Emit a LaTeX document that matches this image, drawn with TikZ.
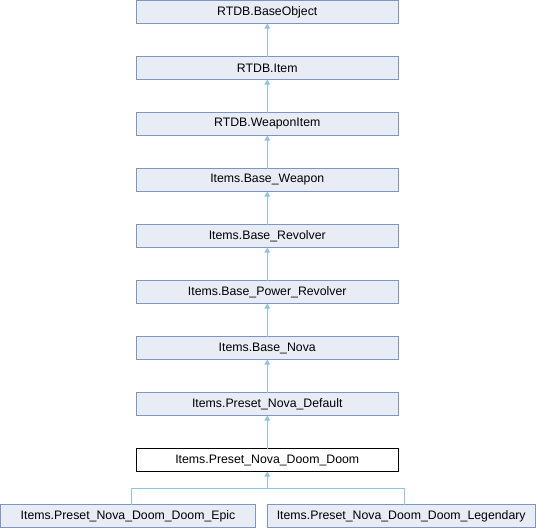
\documentclass[tikz,border=0pt]{standalone}
\usepackage{fontspec}
\setmainfont{Liberation Sans}
\usetikzlibrary{arrows.meta}
\definecolor{boxfill}{HTML}{E8ECF5}
\definecolor{boxline}{HTML}{7C95C6}
\definecolor{edgecol}{HTML}{8FC3E4}
\tikzset{
  cls/.style={draw=boxline, fill=boxfill, line width=1pt, minimum height=23pt, inner sep=0pt, outer sep=0pt, font=\fontsize{12.3}{14}\selectfont},
  mainw/.style={minimum width=261.5pt},
  leafw/.style={minimum width=255pt},
  cur/.style={draw=black, fill=white},
  inh/.style={draw=edgecol, line width=1pt, -{Triangle[length=5pt,width=5.5pt,fill=edgecol]}},
  conn/.style={draw=edgecol, line width=1pt}
}
\begin{document}
\begin{tikzpicture}[x=1pt,y=-1pt]
\useasboundingbox (0,0) rectangle (536,528);
\node[cls,mainw] (n0) at (267.25,12) {RTDB.BaseObject};
\node[cls,mainw] (n1) at (267.25,68) {RTDB.Item};
\node[cls,mainw] (n2) at (267.25,124) {RTDB.WeaponItem};
\node[cls,mainw] (n3) at (267.25,180) {Items.Base\_Weapon};
\node[cls,mainw] (n4) at (267.25,236) {Items.Base\_Revolver};
\node[cls,mainw] (n5) at (267.25,292) {Items.Base\_Power\_Revolver};
\node[cls,mainw] (n6) at (267.25,348) {Items.Base\_Nova};
\node[cls,mainw] (n7) at (267.25,404) {Items.Preset\_Nova\_Default};
\node[cls,mainw,cur] (n8) at (267.25,460) {Items.Preset\_Nova\_Doom\_Doom};
\node[cls,leafw] (epic) at (128,516) {Items.Preset\_Nova\_Doom\_Doom\_Epic};
\node[cls,minimum width=268pt] (leg) at (401.25,516) {Items.Preset\_Nova\_Doom\_Doom\_Legendary};
\foreach \c/\p in {n1/n0,n2/n1,n3/n2,n4/n3,n5/n4,n6/n5,n7/n6,n8/n7}
  \draw[inh] (\c.north) -- (\p.south);
\coordinate (j) at (267.25,488.3);
\draw[inh] (j) -- (n8.south);
\draw[conn] ([xshift=3.7pt]epic.north) |- (j) -| ([xshift=3pt]leg.north);
\end{tikzpicture}
\end{document}
